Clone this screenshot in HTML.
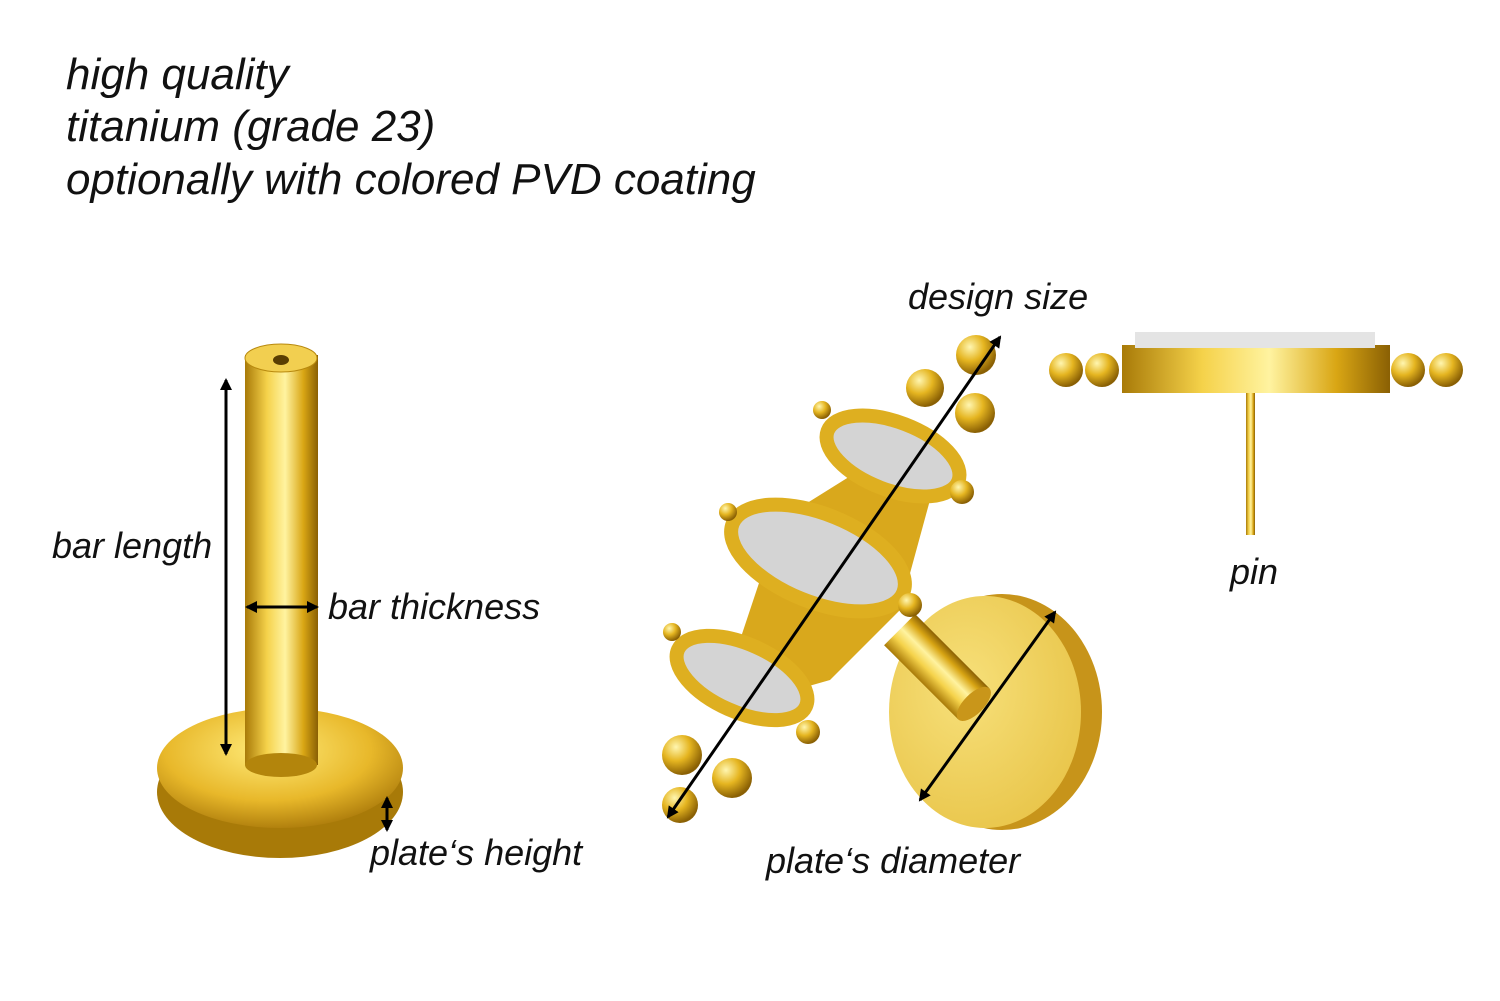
<!DOCTYPE html>
<html><head><meta charset="utf-8"><style>
html,body{margin:0;padding:0;background:#fff;}
body{width:1500px;height:1001px;position:relative;overflow:hidden;font-family:"Liberation Sans",Arial,sans-serif;font-style:italic;color:#111;}
.t{position:absolute;white-space:nowrap;}
.h{font-size:44px;left:66px;}
.l{font-size:36px;}
svg{position:absolute;left:0;top:0;}
</style></head><body>
<svg width="1500" height="1001" viewBox="0 0 1500 1001">
<defs>
<linearGradient id="bar" x1="0" x2="1"><stop offset="0" stop-color="#a87a08"/><stop offset=".3" stop-color="#f5d24a"/><stop offset=".55" stop-color="#fff3a0"/><stop offset=".8" stop-color="#d9a614"/><stop offset="1" stop-color="#8a6004"/></linearGradient>
<radialGradient id="plate" cx=".45" cy=".35" r=".7"><stop offset="0" stop-color="#ffeb7a"/><stop offset=".6" stop-color="#e8b82a"/><stop offset="1" stop-color="#a67508"/></radialGradient>
<radialGradient id="face" cx=".4" cy=".4" r=".7"><stop offset="0" stop-color="#f7e07a"/><stop offset="1" stop-color="#e8c448"/></radialGradient>
<radialGradient id="ball" cx=".35" cy=".3" r=".7"><stop offset="0" stop-color="#fff6b0"/><stop offset=".5" stop-color="#e5b520"/><stop offset="1" stop-color="#8a6004"/></radialGradient>
<marker id="ar" markerWidth="12" markerHeight="12" refX="10" refY="6" orient="auto-start-reverse" markerUnits="userSpaceOnUse"><path d="M0,0 L12,6 L0,12 z" fill="#000"/></marker>
</defs>
<!-- left stud -->
<ellipse cx="280" cy="792" rx="123" ry="66" fill="#a87a08"/>
<ellipse cx="280" cy="768" rx="123" ry="60" fill="url(#plate)"/>
<rect x="245" y="355" width="73" height="410" fill="url(#bar)"/>
<ellipse cx="281" cy="765" rx="36" ry="12" fill="#b3850c"/>
<ellipse cx="281" cy="358" rx="36" ry="14" fill="#f2cf50" stroke="#b8890e"/>
<ellipse cx="281" cy="360" rx="8" ry="5" fill="#5a3e02"/>
<line x1="226" y1="380" x2="226" y2="754" stroke="#000" stroke-width="3" marker-start="url(#ar)" marker-end="url(#ar)"/>
<line x1="247" y1="607" x2="317" y2="607" stroke="#000" stroke-width="3" marker-start="url(#ar)" marker-end="url(#ar)"/>
<line x1="387" y1="798" x2="387" y2="830" stroke="#000" stroke-width="3" marker-start="url(#ar)" marker-end="url(#ar)"/>
<!-- middle piece: plate -->
<ellipse cx="1002" cy="712" rx="100" ry="118" fill="#c7941a"/>
<ellipse cx="985" cy="712" rx="96" ry="116" fill="url(#face)"/>
<g transform="translate(935,665) rotate(-45)">
<rect x="-22" y="-50" width="44" height="105" fill="url(#bar)"/>
<ellipse cx="0" cy="55" rx="22" ry="10" fill="#c9961a"/>
</g>
<polygon points="780,520 860,470 930,500 900,610 830,680 760,700 740,640" fill="#d9a81c"/>
<g stroke="#deaf20" stroke-width="14" fill="#d4d4d4">
<ellipse cx="0" cy="0" rx="70" ry="34" transform="translate(893,456) rotate(21)"/>
<ellipse cx="0" cy="0" rx="92" ry="44" transform="translate(818,558) rotate(22)"/>
<ellipse cx="0" cy="0" rx="70" ry="34" transform="translate(742,678) rotate(24)"/>
</g>
<g fill="url(#ball)">
<circle cx="680" cy="805" r="18"/><circle cx="682" cy="755" r="20"/><circle cx="732" cy="778" r="20"/>
<circle cx="976" cy="355" r="20"/><circle cx="925" cy="388" r="19"/><circle cx="975" cy="413" r="20"/>
<circle cx="962" cy="492" r="12"/><circle cx="910" cy="605" r="12"/><circle cx="808" cy="732" r="12"/>
<circle cx="728" cy="512" r="9"/><circle cx="672" cy="632" r="9"/><circle cx="822" cy="410" r="9"/>
</g>
<line x1="668" y1="817" x2="1000" y2="337" stroke="#000" stroke-width="3" marker-start="url(#ar)" marker-end="url(#ar)"/>
<line x1="920" y1="800" x2="1055" y2="612" stroke="#000" stroke-width="3" marker-start="url(#ar)" marker-end="url(#ar)"/>
<!-- right piece -->
<rect x="1246" y="390" width="9" height="145" fill="url(#bar)"/>
<rect x="1122" y="345" width="268" height="48" fill="url(#bar)"/>
<rect x="1135" y="332" width="240" height="16" fill="#e4e4e4"/>
<g fill="url(#ball)">
<circle cx="1066" cy="370" r="17"/><circle cx="1102" cy="370" r="17"/><circle cx="1408" cy="370" r="17"/><circle cx="1446" cy="370" r="17"/>
</g>
</svg>
<div class="t h" style="top:50px">high quality</div>
<div class="t h" style="top:102px">titanium (grade 23)</div>
<div class="t h" style="top:155px">optionally with colored PVD coating</div>
<div class="t l" style="left:908px;top:276px">design size</div>
<div class="t l" style="left:1230px;top:551px">pin</div>
<div class="t l" style="left:52px;top:525px">bar length</div>
<div class="t l" style="left:328px;top:586px">bar thickness</div>
<div class="t l" style="left:370px;top:832px">plate‘s height</div>
<div class="t l" style="left:766px;top:840px">plate‘s diameter</div>
</body></html>
